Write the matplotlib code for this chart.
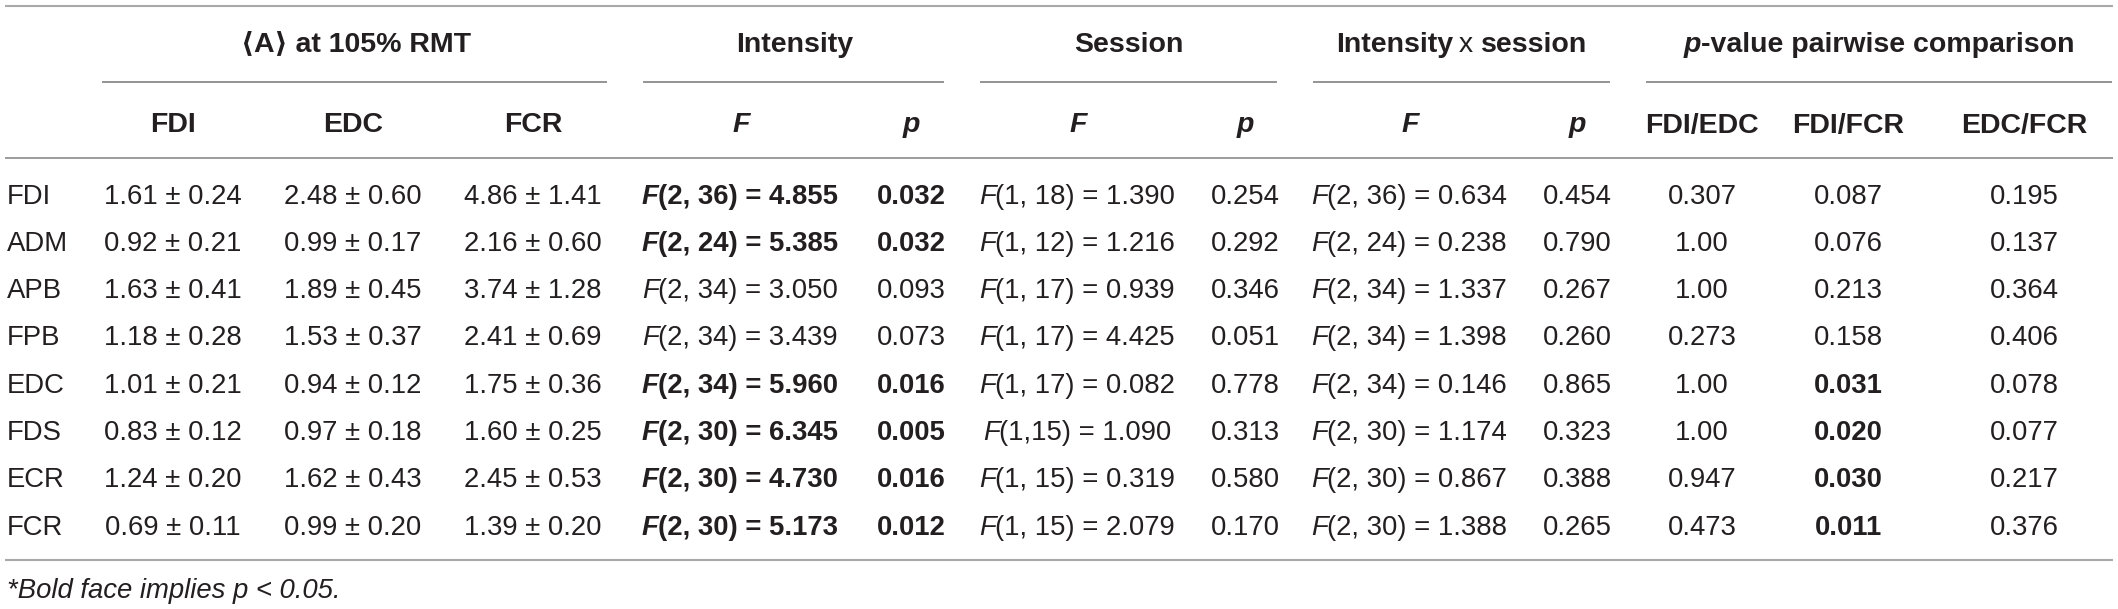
import matplotlib
matplotlib.use("Agg")
import matplotlib.pyplot as plt

# ---------------- data ----------------
muscles = ["FDI", "ADM", "APB", "FPB", "EDC", "FDS", "ECR", "FCR"]
fdi_mean = [1.61, 0.92, 1.63, 1.18, 1.01, 0.83, 1.24, 0.69]
fdi_sd = [0.24, 0.21, 0.41, 0.28, 0.21, 0.12, 0.20, 0.11]
edc_mean = [2.48, 0.99, 1.89, 1.53, 0.94, 0.97, 1.62, 0.99]
edc_sd = [0.60, 0.17, 0.45, 0.37, 0.12, 0.18, 0.43, 0.20]
fcr_mean = [4.86, 2.16, 3.74, 2.41, 1.75, 1.60, 2.45, 1.39]
fcr_sd = [1.41, 0.60, 1.28, 0.69, 0.36, 0.25, 0.53, 0.20]

int_df = ["2, 36", "2, 24", "2, 34", "2, 34", "2, 34", "2, 30", "2, 30", "2, 30"]
int_F = [4.855, 5.385, 3.050, 3.439, 5.960, 6.345, 4.730, 5.173]
int_p = [0.032, 0.032, 0.093, 0.073, 0.016, 0.005, 0.016, 0.012]

ses_df = ["1, 18", "1, 12", "1, 17", "1, 17", "1, 17", "1,15", "1, 15", "1, 15"]
ses_F = [1.390, 1.216, 0.939, 4.425, 0.082, 1.090, 0.319, 2.079]
ses_p = [0.254, 0.292, 0.346, 0.051, 0.778, 0.313, 0.580, 0.170]

ixs_df = ["2, 36", "2, 24", "2, 34", "2, 34", "2, 34", "2, 30", "2, 30", "2, 30"]
ixs_F = [0.634, 0.238, 1.337, 1.398, 0.146, 1.174, 0.867, 1.388]
ixs_p = [0.454, 0.790, 0.267, 0.260, 0.865, 0.323, 0.388, 0.265]

pw_fdi_edc = ["0.307", "1.00", "1.00", "0.273", "1.00", "1.00", "0.947", "0.473"]
pw_fdi_fcr = ["0.087", "0.076", "0.213", "0.158", "0.031", "0.020", "0.030", "0.011"]
pw_edc_fcr = ["0.195", "0.137", "0.364", "0.406", "0.078", "0.077", "0.217", "0.376"]

group_headers = ["\u27e8A\u27e9 at 105% RMT", "Intensity", "Session",
                 "Intensity x session", "p-value pairwise comparison"]
sub_headers = ["FDI", "EDC", "FCR", "F", "p", "F", "p", "F", "p",
               "FDI/EDC", "FDI/FCR", "EDC/FCR"]
footnote = "*Bold face implies p < 0.05."
ALPHA = 0.05

# ---------------- layout ----------------
W, H = 2118, 609
fig = plt.figure(figsize=(W / 100, H / 100), dpi=100)
ax = fig.add_axes([0, 0, 1, 1])
ax.set_xlim(0, W)
ax.set_ylim(H, 0)
ax.axis("off")
r = fig.canvas.get_renderer()

TXT = "#231f20"
FAM = ["Liberation Sans", "DejaVu Sans"]
FS = 19.8
FSH = 20.5
REG = dict(family=FAM, fontsize=FS, color=TXT, fontweight="normal")
REGI = dict(REG, fontstyle="italic")
BLD = dict(family=FAM, fontsize=FS, color=TXT, fontweight="bold")
BLDI = dict(BLD, fontstyle="italic")
HB = dict(BLD, fontsize=FSH)
HBI = dict(BLDI, fontsize=FSH)
HR = dict(REG, fontsize=FSH)

col_x = [173, 353, 533, 740, 911, 1077, 1245, 1409, 1577, 1702, 1848, 2024]
label_x = 7
group_spans = [(102, 607), (643, 944), (980, 1277), (1313, 1610), (1646, 2112)]
y_group = 42
y_underline = 82
y_sub = 123
y_line2 = 158
row_y0 = 194
row_dy = 47.3
y_bottom = 560
y_foot = 588
CAP = 9.5  # half cap height in px -> baseline offset
ITAL_PAD = 3  # extra room after an italic F before an upright parenthesis


def seg_width(s, props):
    t = ax.text(0, 0, "." + s + ".", **props)
    w = t.get_window_extent(r).width
    t.remove()
    t2 = ax.text(0, 0, "..", **props)
    w2 = t2.get_window_extent(r).width
    t2.remove()
    return w - w2


def draw(x, yc, segs, ha="center"):
    widths = []
    for k, (s, p) in enumerate(segs):
        w = seg_width(s, p)
        if p.get("fontstyle") == "italic" and k < len(segs) - 1 \
                and segs[k + 1][0].startswith("("):
            w += ITAL_PAD
        widths.append(w)
    total = sum(widths)
    if ha == "center":
        x0 = x - total / 2
    elif ha == "left":
        x0 = x
    else:
        x0 = x - total
    for (s, p), w in zip(segs, widths):
        ax.text(x0, yc + CAP, s, ha="left", va="baseline", **p)
        x0 += w


def fstat(df, val, bold):
    if bold:
        return [("F", BLDI), ("(" + df + ") = " + f"{val:.3f}", BLD)]
    return [("F", REGI), ("(" + df + ") = " + f"{val:.3f}", REG)]


# rules
ax.plot([5, 2113], [6, 6], color="#a9a9a9", lw=1.5, solid_capstyle="butt")
for a, b in group_spans:
    ax.plot([a, b], [y_underline, y_underline], color="#777777", lw=1.1,
            solid_capstyle="butt")
ax.plot([5, 2113], [y_line2, y_line2], color="#9c9c9c", lw=1.4, solid_capstyle="butt")
ax.plot([5, 2113], [y_bottom, y_bottom], color="#a9a9a9", lw=1.5, solid_capstyle="butt")

# group headers
for i, (a, b) in enumerate(group_spans):
    cx = (a + b) / 2
    g = group_headers[i]
    if g.startswith("Intensity x"):
        segs = [("Intensity", HB), (" x ", HR), ("session", HB)]
    elif g.startswith("p-value"):
        segs = [("p", HBI), (g[1:], HB)]
    else:
        segs = [(g, HB)]
    draw(cx, y_group, segs)

# sub headers
for x, s in zip(col_x, sub_headers):
    props = HBI if s in ("F", "p") else HB
    draw(x, y_sub, [(s, props)])

# rows
for i, m in enumerate(muscles):
    y = row_y0 + i * row_dy
    draw(label_x, y, [(m, REG)], ha="left")
    draw(col_x[0], y, [(f"{fdi_mean[i]:.2f} \u00b1 {fdi_sd[i]:.2f}", REG)])
    draw(col_x[1], y, [(f"{edc_mean[i]:.2f} \u00b1 {edc_sd[i]:.2f}", REG)])
    draw(col_x[2], y, [(f"{fcr_mean[i]:.2f} \u00b1 {fcr_sd[i]:.2f}", REG)])
    sig = int_p[i] < ALPHA
    draw(col_x[3], y, fstat(int_df[i], int_F[i], sig))
    draw(col_x[4], y, [(f"{int_p[i]:.3f}", BLD if sig else REG)])
    sig = ses_p[i] < ALPHA
    draw(col_x[5], y, fstat(ses_df[i], ses_F[i], sig))
    draw(col_x[6], y, [(f"{ses_p[i]:.3f}", BLD if sig else REG)])
    sig = ixs_p[i] < ALPHA
    draw(col_x[7], y, fstat(ixs_df[i], ixs_F[i], sig))
    draw(col_x[8], y, [(f"{ixs_p[i]:.3f}", BLD if sig else REG)])
    for j, col in enumerate([pw_fdi_edc, pw_fdi_fcr, pw_edc_fcr]):
        v = col[i]
        draw(col_x[9 + j], y, [(v, BLD if float(v) < ALPHA else REG)])

draw(label_x, y_foot, [(footnote, REGI)], ha="left")

fig.savefig("out.png", dpi=100)
